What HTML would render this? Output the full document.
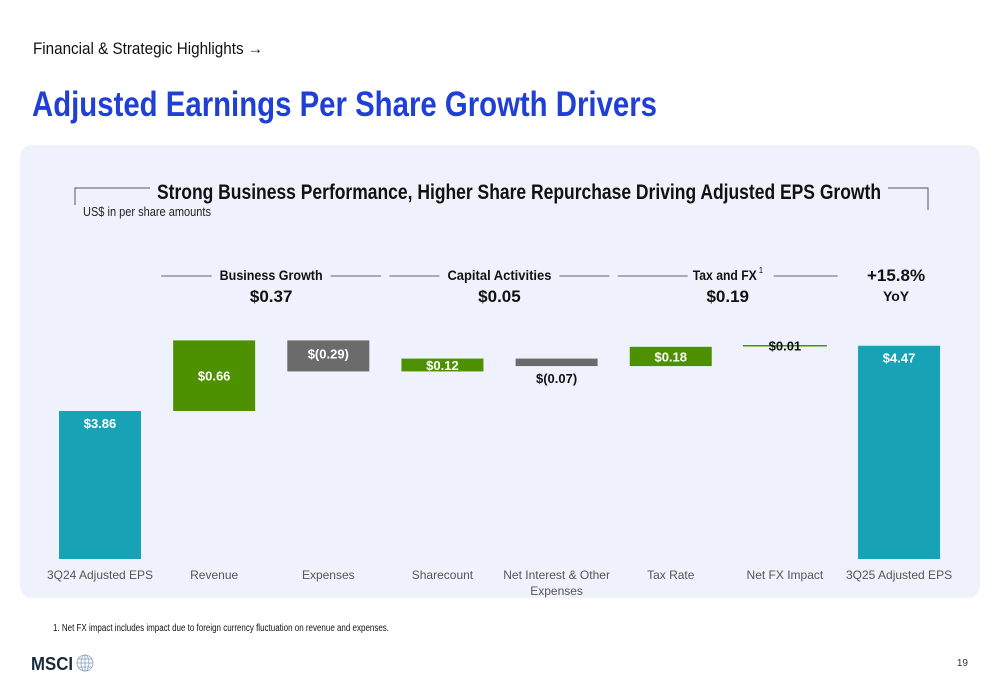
<!DOCTYPE html>
<html><head><meta charset="utf-8"><style>
html,body{margin:0;padding:0;background:#fff;}
svg{display:block;font-family:"Liberation Sans",sans-serif;}
</style></head><body>
<svg id="chart" width="1000" height="685" viewBox="0 0 1000 685">
<text x="33" y="54" font-size="17" fill="#111" textLength="230" lengthAdjust="spacingAndGlyphs">Financial &amp; Strategic Highlights →</text>
<text x="32" y="116" font-size="35" font-weight="bold" fill="#1f3fd6" textLength="625" lengthAdjust="spacingAndGlyphs">Adjusted Earnings Per Share Growth Drivers</text>
<rect x="20" y="145" width="960" height="453" rx="12" fill="#eff2fc"/>
<path d="M75,205 V188 H150 M888,188 H928 V210" stroke="#555" stroke-width="1" fill="none"/>
<text x="157" y="199" font-size="21" font-weight="bold" fill="#111" textLength="724" lengthAdjust="spacingAndGlyphs">Strong Business Performance, Higher Share Repurchase Driving Adjusted EPS Growth</text>
<text x="83" y="216" font-size="12.5" fill="#222" textLength="128" lengthAdjust="spacingAndGlyphs">US$ in per share amounts</text>
<g id="groups"></g>
<g id="bars"></g>
<g id="xlabels"></g>
<text x="53" y="631" font-size="10" fill="#111" textLength="336" lengthAdjust="spacingAndGlyphs">1. Net FX impact includes impact due to foreign currency fluctuation on revenue and expenses.</text>
<text x="31" y="670" font-size="18" font-weight="bold" fill="#1a2a3a" textLength="42" lengthAdjust="spacingAndGlyphs">MSCI</text>
<g stroke="#8aa0c8" fill="none" stroke-width="0.8">
<circle cx="85" cy="663" r="8"/><ellipse cx="85" cy="663" rx="4" ry="8"/><line x1="77" y1="663" x2="93" y2="663"/><line x1="85" y1="655" x2="85" y2="671"/><line x1="78" y1="659" x2="92" y2="659"/><line x1="78" y1="667" x2="92" y2="667"/>
</g>
<text x="968" y="666" font-size="10" fill="#333" text-anchor="end">19</text>
</svg>
<script>
const categories=["3Q24 Adjusted EPS","Revenue","Expenses","Sharecount","Net Interest & Other|Expenses","Tax Rate","Net FX Impact","3Q25 Adjusted EPS"];
const deltas=[3.86,0.66,-0.29,0.12,-0.07,0.18,0.01,4.47];
const kinds=["total","pos","neg","pos","neg","pos","pos","total"];
const valueLabels=["$3.86","$0.66","$(0.29)","$0.12","$(0.07)","$0.18","$0.01","$4.47"];
const groupNames=["Business Growth","Capital Activities","Tax and FX"];
const groupValues=["$0.37","$0.05","$0.19"];
const yoyLabel="+15.8%";

const NS="http://www.w3.org/2000/svg";
const baseY=559, pxPerUnit=107, yMin=2.477;
const y=v=>baseY-(v-yMin)*pxPerUnit;
const xc=i=>100+i*114.15;
const bw=82;
const titleW=[103,104,64];
const colors={total:"#17a2b5",pos:"#4e9100",neg:"#6b6b6b"};
function mk(tag,attrs,parent){const e=document.createElementNS(NS,tag);for(const k in attrs)e.setAttribute(k,attrs[k]);parent.appendChild(e);return e;}
const bars=document.getElementById('bars'),xl=document.getElementById('xlabels'),gg=document.getElementById('groups');
let run=0;
deltas.forEach((d,i)=>{
  let lo,hi;
  if(kinds[i]==="total"){lo=yMin;hi=d;run=d;}else{lo=Math.min(run,run+d);hi=Math.max(run,run+d);run+=d;}
  let h=y(lo)-y(hi); const thin=h<3;
  let r;
  if(thin){r=mk('rect',{x:xc(i)-42,y:y(hi)-0.75,width:84,height:1.5,fill:colors[kinds[i]]},bars);}
  else r=mk('rect',{x:xc(i)-bw/2,y:y(hi),width:bw,height:h,fill:colors[kinds[i]]},bars);
  
  
  let ty,fill="#fff";
  if(thin){ty=y(hi)+5;fill="#111";}
  else if(h<20){ if(d<0){ty=y(lo)+17;fill="#111";} else ty=y(hi)+h/2+5;}
  else if(kinds[i]==="total") ty=y(hi)+17;
  else if(kinds[i]==="neg") ty=y(hi)+18;
  else ty=y(hi)+h/2+5;
  const t=mk('text',{x:xc(i),y:ty,'text-anchor':'middle','font-size':13,'font-weight':'bold',fill:fill},bars);
  t.textContent=valueLabels[i];
  
  
  categories[i].split('|').forEach((ln,j)=>{
    const c=mk('text',{x:xc(i),y:579+j*16,'text-anchor':'middle','font-size':12,fill:'#555'},xl);
    c.textContent=ln;
    
    
  });
});
groupNames.forEach((g,k)=>{
  const cx=xc(1+2*k)+57, w=titleW[k];
  const l1=mk('line',{x1:cx-110,y1:276,x2:cx-w/2-8-(k===2?0:0),y2:276,stroke:'#666','stroke-width':1},gg);
  
  
  const l2=mk('line',{x1:cx+w/2+8+(k===2?6:0),y1:276,x2:cx+110,y2:276,stroke:'#666','stroke-width':1},gg);
  
  
  const t=mk('text',{x:cx-(k===2?3:0),y:280,'text-anchor':'middle','font-size':14,'font-weight':'bold',fill:'#111',textLength:w,lengthAdjust:'spacingAndGlyphs'},gg);
  t.textContent=g;
  
  
  if(k===2){const s=mk('text',{x:cx+w/2-1,y:273,'font-size':8,fill:'#111'},gg);s.textContent='1';
    
    }
  const v=mk('text',{x:cx,y:302,'text-anchor':'middle','font-size':17,'font-weight':'bold',fill:'#111'},gg);
  v.textContent=groupValues[k];
  
  
});
const yo=mk('text',{x:xc(7)-3,y:281,'text-anchor':'middle','font-size':17,'font-weight':'bold',fill:'#111'},gg);
yo.textContent=yoyLabel;


const yy=mk('text',{x:xc(7)-3,y:301,'text-anchor':'middle','font-size':14,'font-weight':'bold',fill:'#111'},gg);
yy.textContent="YoY";


</script>
</body></html>
